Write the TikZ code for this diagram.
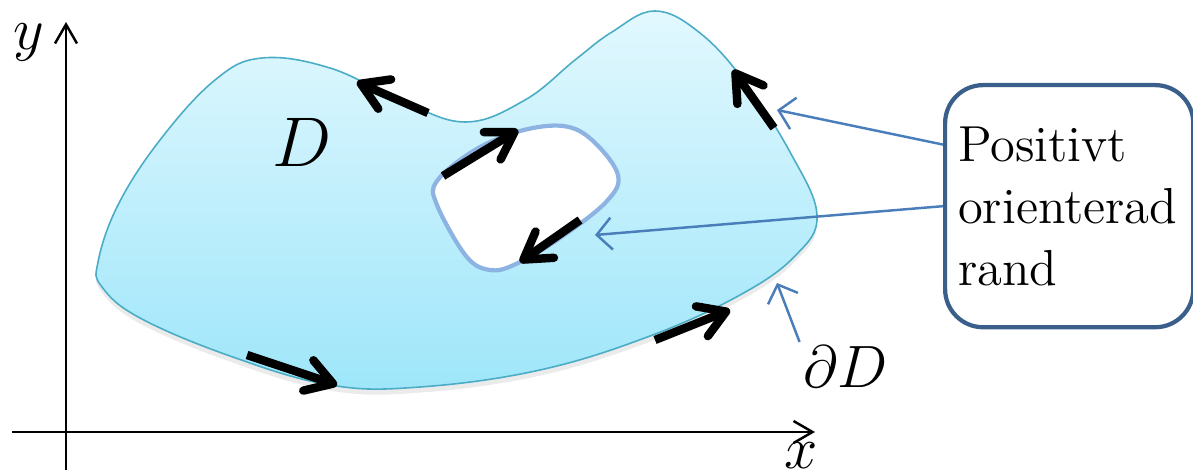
\RequirePackage{fix-cm}
\documentclass[tikz,border=0pt]{standalone}
\usetikzlibrary{arrows.meta, positioning, shadows, calc}
\definecolor{regiontop}{HTML}{E2F8FE}
\definecolor{regionbot}{HTML}{9EE6FA}
\definecolor{rimcol}{HTML}{4BACC6}
\definecolor{holecol}{HTML}{8DB3E2}
\definecolor{pointcol}{HTML}{4A7EBB}
\definecolor{boxcol}{HTML}{3A5F8B}

\begin{document}
\begin{tikzpicture}[x=0.01cm, y=-0.01cm,
    axis/.style={line width=0.7pt, -{Straight Barb[length=1.9mm, width=2.2mm]}},
    orient/.style={line width=2.4pt, -{Straight Barb[length=2.6mm, width=3.2mm, round]}},
    pointer/.style={pointcol, line width=0.7pt, -{Straight Barb[length=1.5mm, width=3.2mm]}},
    callout/.style={draw=boxcol, line width=1.2pt, rounded corners=0.38cm, fill=white,
        align=left, text width=2.22cm, inner xsep=0.13cm, minimum width=2.48cm,
        minimum height=2.42cm, font=\fontsize{14.4}{17.6}\selectfont},
    lbl/.style={inner sep=1pt, font=\fontsize{17}{20}\selectfont}
]
    \useasboundingbox (0,0) rectangle (1193,476);

    % axes
    \coordinate (o) at (66,432);
    \coordinate (xend) at (815,432);
    \coordinate (yend) at (66,22);
    \draw[axis] (12,432) -- (xend);
    \draw[axis] (66,470) -- (yend);
    \node[lbl] (ylab) at (29,42) {$y$};
    \node[lbl] (xlab) at (801,456) {$x$};

    % region D
    \path[draw=rimcol, line width=0.45pt, top color=regiontop, bottom color=regionbot,
        drop shadow={shadow xshift=0pt, shadow yshift=-1.6pt, opacity=0.16}]
        plot[smooth cycle, tension=0.65] coordinates {
        (98,262) (118,205) (160,140) (215,80) (262,58) (330,68) (400,100) (465,122)
        (525,100) (575,60) (612,32) (655,11) (700,33) (745,82) (790,152) (817,215)
        (795,256) (740,295) (650,336) (540,370) (420,387) (330,385) (230,356)
        (140,318) (102,287)};

    % hole
    \draw[holecol, line width=1.2pt, fill=white]
        plot[smooth cycle, tension=0.6] coordinates {
        (437,181) (475,150) (520,131) (563,126) (592,140) (618,175) (606,202)
        (560,238) (516,264) (490,270) (466,256) (437,205)};

    % orientation arrows
    \draw[orient] (428,113) -- (357,82);
    \draw[orient] (774,128) -- (733,70);
    \draw[orient] (443,176) -- (518,130);
    \draw[orient] (580,220) -- (520,262);
    \draw[orient] (247,355) -- (337,385);
    \draw[orient] (655,340) -- (730,310);

    \node[font=\fontsize{20}{24}\selectfont] (dlab) at (302,142) {$D$};

    % callout
    \node[callout, anchor=north west] (box) at (943,83) {Positivt\\orienterad\\rand};
    \coordinate (tipA) at (777,110);
    \coordinate (tipB) at (595,235);
    \coordinate (tipC) at (777,283);
    \draw[pointer] ($(box.north west)!0.25!(box.south west)$) -- (tipA);
    \draw[pointer] (box.west) -- (tipB);
    \node[lbl] (bd) at (846,367) {$\partial D$};
    \draw[pointer] (bd.north west) -- (tipC);
\end{tikzpicture}
\end{document}
